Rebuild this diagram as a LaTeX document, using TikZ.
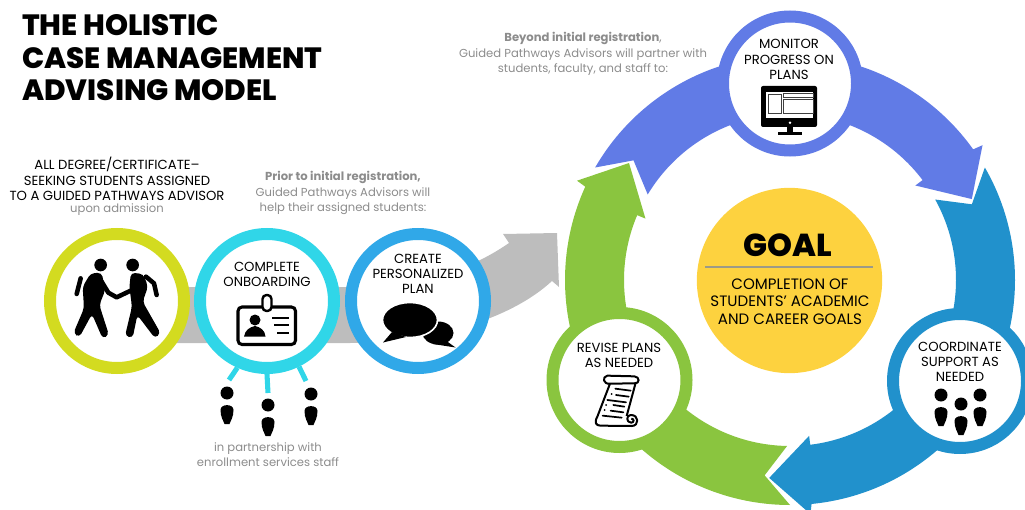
\documentclass[tikz,border=0pt]{standalone}
\usepackage{fontspec}
\usetikzlibrary{calc}
\setmainfont{Poppins}
\newfontfamily\heavyfont{Poppins}[UprightFont=* ExtraBold]
\definecolor{limering}{HTML}{D3DB20}
\definecolor{cyanring}{HTML}{30D6E8}
\definecolor{skyring}{HTML}{30A8E8}
\definecolor{monitorblue}{HTML}{617BE6}
\definecolor{supportblue}{HTML}{2191CC}
\definecolor{revisegreen}{HTML}{8AC53F}
\definecolor{goalyellow}{HTML}{FDD23F}
\definecolor{pathgray}{HTML}{BDBDBD}
\definecolor{notegray}{HTML}{8C8C8C}
\definecolor{rulegray}{HTML}{9C9A88}
\tikzset{
  person/.pic={
    \fill (0,0) circle[radius=6.5];
    \fill (-6.5,17) .. controls (-6.5,10.5) and (6.5,10.5) .. (6.5,17)
      .. controls (6.5,24) and (3.5,28) .. (2.5,31) -- (-2.5,31)
      .. controls (-3.5,28) and (-6.5,24) .. (-6.5,17) -- cycle;
  }
}
\begin{document}
\begin{tikzpicture}[
  x=0.75pt, y=-0.75pt,
  ring/.style={circle, draw, line width=9pt, fill=white, minimum size=100.5pt, inner sep=0pt},
  capbox/.style={align=center, font=\fontsize{9.9}{11.5}\selectfont, inner sep=0pt},
  notebox/.style={align=center, text=notegray, font=\fontsize{8.7}{11.4}\selectfont, inner sep=0pt},
  heading/.style={anchor=west, inner sep=0pt, font=\fontsize{22}{24}\heavyfont},
  spoke/.style={cyanring, line width=3.8pt},
  limb/.style={line width=3.4pt, line cap=round, line join=round},
  scrollline/.style={line width=1.3pt, line cap=round}
]
  \useasboundingbox (0,0) rectangle (1025,510);

  % Title
  \node[heading] (titleA) at (22,25) {THE HOLISTIC};
  \node[heading] (titleB) at (22,58) {CASE MANAGEMENT};
  \node[heading] (titleC) at (22,90) {ADVISING MODEL};

  % Gray path behind the first circles
  \fill[pathgray] (170,287) -- (350,287) .. controls (420,287) and (470,270) .. (509,243)
    -- (503,234) -- (557,233) -- (559,287) -- (552,281)
    .. controls (510,320) and (430,343) .. (350,343) -- (170,343) -- cycle;

  % Captions
  \node[capbox] (assigned) at (117,179) {ALL DEGREE/CERTIFICATE--\\SEEKING STUDENTS ASSIGNED\\TO A GUIDED PATHWAYS ADVISOR};
  \node[notebox] (admission) at (117,210) {upon admission};
  \node[notebox] (prior) at (343,193) {\textbf{Prior to initial registration,}\\Guided Pathways Advisors will\\help their assigned students:};
  \node[notebox] (beyond) at (583,54) {\textbf{Beyond initial registration},\\Guided Pathways Advisors will partner with\\students, faculty, and staff to:};
  \node[notebox] (partner) at (268,454.5) {in partnership with\\enrollment services staff};

  % Circles on the left
  \node[ring, draw=limering] (advisor) at (117,301) {};
  \node[ring, draw=cyanring] (onboard) at (267,301) {};
  \node[ring, draw=skyring] (plan) at (418,301) {};

  % Handshake
  \begin{scope}[shift={(60,250)}, scale=1/3]
    \fill (122,45) circle[radius=19];
    \fill (218,45) circle[radius=19];
    \fill[rounded corners=3pt] (92,70) -- (125,68) -- (136,120) -- (118,165) -- (147,255) -- (128,266)
      -- (96,192) -- (58,262) -- (40,250) -- (72,175) -- (68,110) -- cycle;
    \fill[rounded corners=3pt] (213,68) -- (250,72) -- (264,110) -- (248,155) -- (302,250) -- (285,265)
      -- (232,195) -- (218,264) -- (195,258) -- (216,170) -- (208,110) -- cycle;
    \draw[limb] (125,95) -- (145,128) -- (170,142) -- (212,122);
    \draw[limb] (62,85) -- (50,132);
    \draw[limb] (258,80) -- (282,100) -- (290,135);
  \end{scope}

  % Onboarding
  \node[capbox] (onboardtext) at (267,274.5) {COMPLETE\\ONBOARDING};
  \draw[line width=2.3pt, rounded corners=3pt] (238,307) rectangle (295.5,344.5);
  \draw[line width=1.8pt, fill=white, rounded corners=3pt] (262.5,295) rectangle (271.5,311);
  \fill (255,320) circle[radius=5.5];
  \fill (244,336.5) .. controls (245,330) and (250,327) .. (255,326)
    .. controls (260,327) and (265,330) .. (265.5,336.5) -- cycle;
  \draw[line width=2pt] (272,318) -- (289,318) (274,325) -- (289,325) (277,333) -- (289,333);

  % Speech bubbles
  \node[capbox] (plantext) at (418,274) {CREATE\\PERSONALIZED\\PLAN};
  \fill (438,333) ellipse[x radius=15.5, y radius=11.5];
  \fill (445,340) -- (455.5,347.5) -- (433,344) -- cycle;
  \draw[white, line width=1.2pt, fill=black] (410,320) ellipse[x radius=27.5, y radius=17.5];
  \fill (392,332) -- (383,342.5) -- (406,337) -- cycle;

  % Staff below the onboarding circle
  \coordinate (staffA) at (229,380);
  \coordinate (staffB) at (268,393);
  \coordinate (staffC) at (306,381);
  \draw[spoke] (onboard.246) -- (staffA);
  \draw[spoke] (onboard.270) -- (staffB);
  \draw[spoke] (onboard.296) -- (staffC);
  \pic at (227,393) {person};
  \pic at (268,405) {person};
  \pic at (311,394) {person};

  % Ring of arrows
  \foreach \col/\a in {monitorblue/210, supportblue/330, revisegreen/90}{
    \fill[\col] ($(790,280)+(\a:225)$) arc[start angle=\a, delta angle=114.5, radius=225]
      -- ($(790,280)+(\a+115:235)$) -- ($(790,280)+(\a+126:199)$) -- ($(790,280)+(\a+113:157)$)
      -- ($(790,280)+(\a+113:166)$) arc[start angle=\a+113, delta angle=-112, radius=166]
      -- ($(790,280)+(\a+7.4:197)$) -- cycle;
  }

  % Circles on the ring
  \node[ring, draw=monitorblue] (monitor) at (790,83.5) {};
  \node[ring, draw=supportblue] (support) at (960,381) {};
  \node[ring, draw=revisegreen] (revise) at (619.5,380) {};

  % Monitor
  \node[capbox] (monitortext) at (789,59.5) {MONITOR\\PROGRESS ON\\PLANS};
  \fill[rounded corners=1.5pt] (761,86) rectangle (817,127);
  \fill[white] (766,92) rectangle (813,118);
  \draw[line width=0.7pt, black!75] (768,94) rectangle (781,113.5);
  \draw[line width=0.7pt, black!75] (783,93.5) rectangle (813,97);
  \draw[line width=0.7pt, black!75] (783,99.5) rectangle (813,113.5);
  \fill[white] (790,122.7) circle[radius=1.4];
  \fill (787,127) rectangle (793,132);
  \fill (778,132) rectangle (802,134.5);

  % Support
  \node[capbox] (supporttext) at (960,362) {COORDINATE\\SUPPORT AS\\NEEDED};
  \pic at (941,395) {person};
  \pic at (961,404) {person};
  \pic at (980,395) {person};

  % Revise
  \node[capbox] (revisetext) at (619,355.5) {REVISE PLANS\\AS NEEDED};
  \begin{scope}[shift={(590,370)}, scale=1/3]
    \draw[line width=1.5pt, line join=round]
      (60,41) .. controls (40,44) and (35,20) .. (52,17) -- (133,19)
      .. controls (150,20) and (150,42) .. (133,40) -- (60,41) -- (22,140)
      .. controls (12,158) and (18,167) .. (32,167) -- (125,168)
      .. controls (148,168) and (148,134) .. (122,135) .. controls (108,136) and (108,158) .. (124,158)
      .. controls (132,158) and (134,146) .. (124,146);
    \draw[line width=1.5pt] (136,42) -- (110,138);
    \draw[scrollline] (76,56) -- (122,62) (78,75) -- (116,80) (52,90) -- (108,97)
      (70,105) -- (103,110) (62,122) -- (100,127) (38,137) -- (95,143);
    \fill (65,72) circle[radius=3] (48,105) circle[radius=3] (44,120) circle[radius=3];
  \end{scope}

  % Goal
  \node[circle, fill=goalyellow, minimum size=139pt, inner sep=0pt] (goal) at (789.5,280.5) {};
  \node[inner sep=0pt, font=\fontsize{23.8}{24}\heavyfont] (goaltext) at (788,245) {GOAL};
  \coordinate (ruleA) at (705,267);
  \coordinate (ruleB) at (873,267);
  \draw[line width=2pt, rulegray] (ruleA) -- (ruleB);
  \node[capbox, font=\fontsize{11.3}{13}\selectfont] (goalnote) at (790,301.5) {COMPLETION OF\\STUDENTS' ACADEMIC\\AND CAREER GOALS};
\end{tikzpicture}
\end{document}
